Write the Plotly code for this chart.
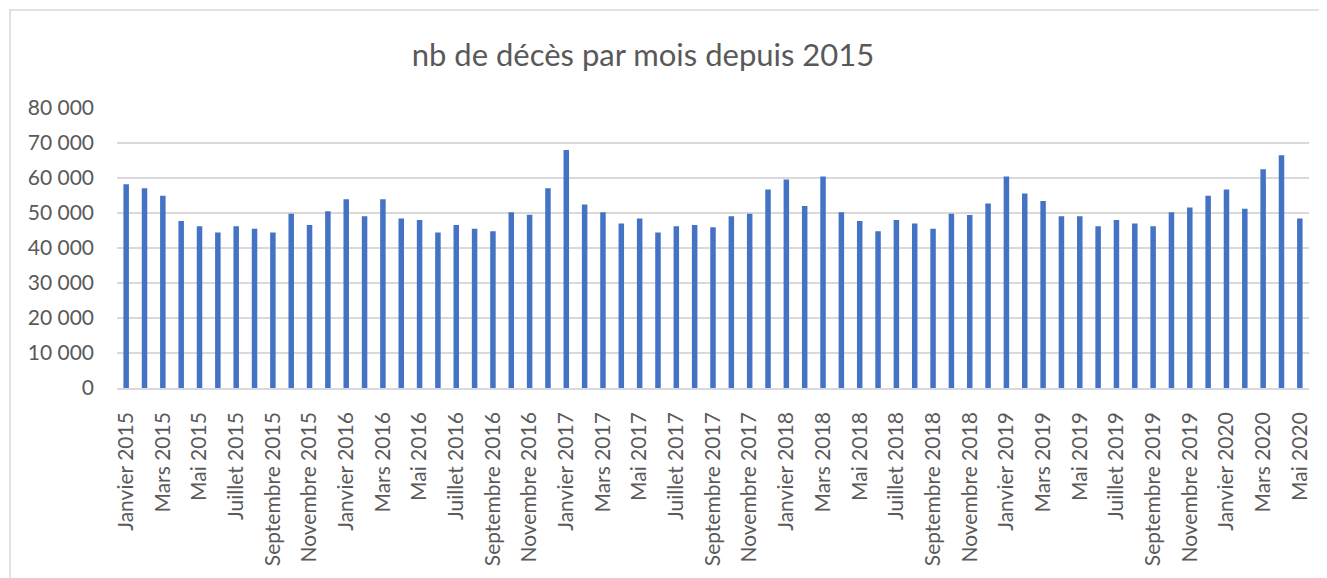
import plotly.graph_objects as go

mois = ["Janvier", "Février", "Mars", "Avril", "Mai", "Juin", "Juillet", "Août",
        "Septembre", "Octobre", "Novembre", "Décembre"]
annees = [2015, 2016, 2017, 2018, 2019, 2020]

categories = [f"{m} {a}" for a in annees for m in mois][:65]

deces = [
    58200, 57100, 54900, 47700, 46200, 44400, 46200, 45500, 44400, 49800, 46600, 50500,
    53900, 49100, 53900, 48400, 48000, 44400, 46600, 45500, 44800, 50200, 49500, 57100,
    68000, 52400, 50200, 47000, 48400, 44400, 46200, 46600, 45900, 49100, 49800, 56700,
    59600, 52000, 60400, 50200, 47700, 44800, 48000, 47000, 45500, 49800, 49400, 52700,
    60400, 55600, 53400, 49100, 49100, 46200, 48000, 47000, 46200, 50200, 51600, 54900,
    56700, 51200, 62500, 66500, 48400,
]

tick_vals = categories[::2]
tick_text = tick_vals

OFF = 8  # page body margin
W, H = 1327 - OFF, 578 - OFF
L, T = 117 - OFF, 108 - OFF
R = W - (1309 - OFF)
B = H - (391 - OFF)
pw = W - L - R
ph = H - T - B

fig = go.Figure(
    go.Bar(
        x=categories,
        y=deces,
        marker=dict(color="#4472C4", line=dict(width=0)),
        showlegend=False,
    )
)

fig.update_layout(
    width=W,
    height=H,
    margin=dict(l=L, r=R, t=T, b=B),
    paper_bgcolor="white",
    plot_bgcolor="white",
    separators=", ",
    bargap=0.70,
    font=dict(family="Lato, Open Sans, sans-serif", color="#595959"),
    title=dict(
        text="nb de décès par mois depuis 2015",
        xref="container",
        x=(643 - OFF) / W,
        xanchor="center",
        yref="container",
        y=1 - (55 - OFF) / H,
        yanchor="middle",
        font=dict(size=31, color="#595959", family="Lato, sans-serif"),
    ),
    xaxis=dict(
        type="category",
        tickmode="array",
        tickvals=tick_vals,
        ticktext=tick_text,
        tickangle=-90,
        tickfont=dict(size=21, color="#595959"),
        showgrid=False,
        showline=True,
        linecolor="#D9D9D9",
        linewidth=1.5,
        ticks="",
        ticklabelstandoff=14,
    ),
    yaxis=dict(
        range=[0, 80000],
        tickvals=[0, 10000, 20000, 30000, 40000, 50000, 60000, 70000, 80000],
        tickformat=",d",
        tickfont=dict(size=21, color="#595959"),
        showgrid=True,
        gridcolor="#D9D9D9",
        gridwidth=1.5,
        zeroline=False,
        showline=False,
        ticks="",
        ticklabelstandoff=22,
    ),
    shapes=[
        dict(
            type="rect",
            xref="paper",
            yref="paper",
            x0=(10 - OFF - L) / pw,
            x1=(W + 10 - L) / pw,
            y0=(H - B - (H + 10)) / ph,
            y1=(H - B - (9 - OFF)) / ph,
            line=dict(color="#D9D9D9", width=1.5),
            fillcolor="rgba(0,0,0,0)",
            layer="below",
        )
    ],
)

fig.write_html("out.html")
